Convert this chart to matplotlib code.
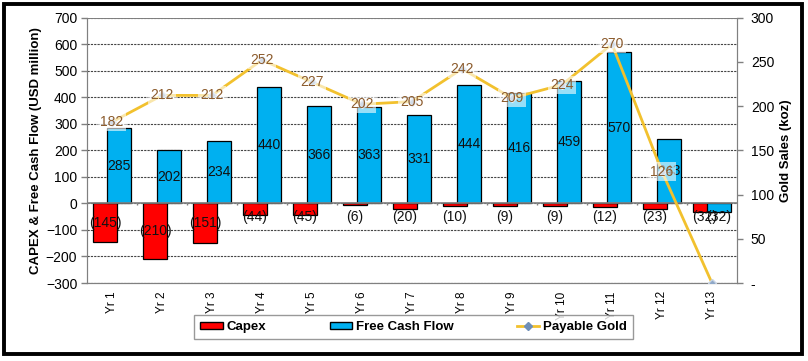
import matplotlib.pyplot as plt
import matplotlib.patches as patches
from matplotlib.lines import Line2D
import numpy as np

years = ["Yr 1", "Yr 2", "Yr 3", "Yr 4", "Yr 5", "Yr 6", "Yr 7",
         "Yr 8", "Yr 9", "Yr 10", "Yr 11", "Yr 12", "Yr 13"]
capex = [-145, -210, -151, -44, -45, -6, -20, -10, -9, -9, -12, -23, -32]
free_cash_flow = [285, 202, 234, 440, 366, 363, 331, 444, 416, 459, 570, 243, -32]
payable_gold = [182, 212, 212, 252, 227, 202, 205, 242, 209, 224, 270, 126, 0]

plt.rcParams['font.family'] = ['Liberation Sans', 'DejaVu Sans']


def fmt(v):
    # numeros negativos entre parenteses, estilo contabil
    return "({})".format(-v) if v < 0 else str(v)


def main():
    fig = plt.figure(figsize=(8.08, 3.61), dpi=100)
    ax = fig.add_axes([0.1077, 0.216, 0.8044, 0.7355])
    ax2 = ax.twinx()

    x = np.arange(len(years))
    w = 0.48
    ax.bar(x - 0.14, capex, w, color='#FF0000', edgecolor='black', linewidth=0.9, zorder=3)
    ax.bar(x + 0.14, free_cash_flow, w, color='#00B0F0', edgecolor='black', linewidth=0.9, zorder=3)

    # rotulos das barras
    for i in range(len(years)):
        c = capex[i]
        ax.text(x[i] - 0.14, min(c / 2, -50), fmt(c), ha='center', va='center',
                fontsize=10, color='#111111', zorder=5)
        f = free_cash_flow[i]
        yf = f / 2 if f > 0 else min(f / 2, -50)
        ax.text(x[i] + 0.14, yf, fmt(f), ha='center', va='center',
                fontsize=10, color='#111111', zorder=5)

    ax.set_xlim(-0.5, len(years) - 0.5)
    ax.set_ylim(-300, 700)
    ax.set_yticks(range(-300, 701, 100))
    ax.grid(axis='y', linestyle=(0, (2, 1)), color='#444444', linewidth=0.8, zorder=0)
    ax.axhline(0, color='#808080', linewidth=1.2, zorder=4)
    ax.vlines(np.arange(0.5, len(years) - 0.5, 1), -8, 0, color='#808080', linewidth=1, zorder=4)

    ax.set_xticks(x)
    ax.set_xticklabels(years, rotation=90, fontsize=8.5)
    ax.tick_params(axis='x', length=0, pad=6)
    ax.tick_params(axis='y', labelsize=10, length=4, color='#808080', width=1, pad=3)
    ax.set_ylabel('CAPEX & Free Cash Flow (USD million)', fontsize=9.5, fontweight='bold', labelpad=3)

    for s in ['left', 'bottom', 'right', 'top']:
        ax.spines[s].set_color('#808080')
        ax2.spines[s].set_color('#808080')
    ax.spines['top'].set_linewidth(0.6)
    ax2.spines['top'].set_linewidth(0.6)

    # linha do ouro no eixo secundario
    ax2.plot(x, payable_gold, color='#F2C12E', linewidth=2, marker='D', markersize=4,
             markerfacecolor='#8FA8C8', markeredgecolor='#C8D4E4', zorder=3)
    for i in range(len(years)):
        if payable_gold[i] > 0:
            ax2.text(x[i], payable_gold[i], str(payable_gold[i]), ha='center', va='center',
                     fontsize=10, color='#8B5A2B', zorder=4,
                     bbox=dict(boxstyle='square,pad=0.15', facecolor='white', alpha=0.6, edgecolor='none'))
    ax2.set_ylim(0, 300)
    ax2.set_yticks(range(0, 301, 50))
    ax2.set_yticklabels(['-'] + [str(v) for v in range(50, 301, 50)])
    ax2.tick_params(axis='y', labelsize=10, length=4, color='#808080', width=1, pad=6)
    ax2.set_ylabel('Gold Sales (koz)', fontsize=9.5, fontweight='bold', labelpad=4)

    # legenda
    handles = [patches.Patch(facecolor='#FF0000', edgecolor='black', label='Capex'),
               patches.Patch(facecolor='#00B0F0', edgecolor='black', label='Free Cash Flow'),
               Line2D([0], [0], color='#F2C12E', linewidth=2, marker='D', markersize=4,
                      markerfacecolor='#6F8FB8', markeredgecolor='#6F8FB8', label='Payable Gold')]
    leg = fig.legend(handles=handles, loc='center', bbox_to_anchor=(0.512, 0.0935),
                     ncol=3, frameon=True, fancybox=False,
                     prop={'weight': 'bold', 'size': 9.5}, handlelength=1.7, handleheight=0.5,
                     handletextpad=0.3, columnspacing=4.8, borderpad=0.45, borderaxespad=0)
    leg.get_frame().set_edgecolor('#808080')
    leg.get_frame().set_linewidth(1)

    # moldura externa
    fig.patches.append(patches.Rectangle((0.005, 0.02), 0.988, 0.97, transform=fig.transFigure,
                                         fill=False, edgecolor='black', linewidth=2.8))

    plt.savefig('out.png', dpi=100)


if __name__ == "__main__":
    main()
